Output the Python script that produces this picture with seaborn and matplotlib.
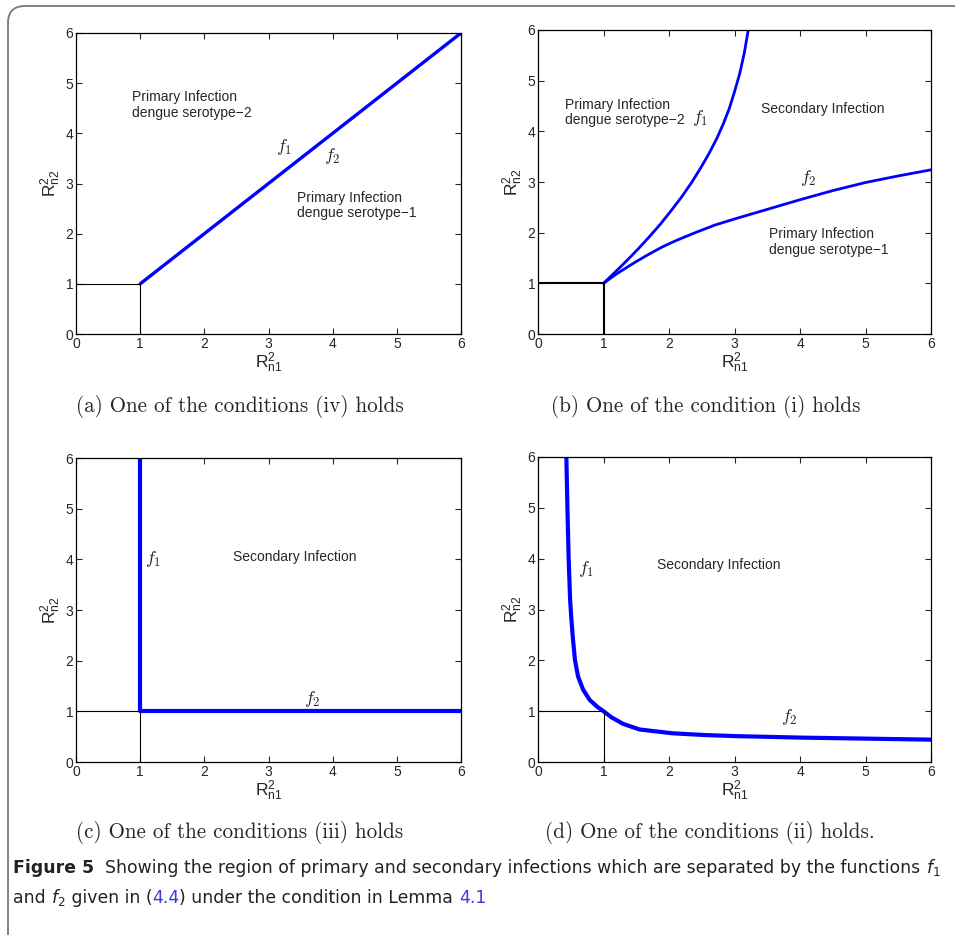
import numpy as np
import pandas as pd
import seaborn as sns
import matplotlib.pyplot as plt
from matplotlib.patches import FancyBboxPatch

# boundary curves
a_x = [1.0, 6.0]
a_y = [1.0, 6.0]

b_f1_x = [1.0, 1.12, 1.24, 1.38, 1.53, 1.70, 1.87, 2.03, 2.19, 2.34, 2.48, 2.61,
          2.73, 2.83, 2.92, 3.00, 3.08, 3.15, 3.21]
b_f1_y = [1.0, 1.15, 1.30, 1.48, 1.68, 1.92, 2.17, 2.43, 2.70, 2.98, 3.27, 3.56,
          3.86, 4.15, 4.45, 4.78, 5.14, 5.55, 6.0]
b_f2_x = [1.0, 1.18, 1.35, 1.5, 1.7, 1.9, 2.1, 2.4, 2.7, 3.0, 3.5, 4.0, 4.5, 5.0, 5.5, 6.0]
b_f2_y = [1.0, 1.17, 1.31, 1.43, 1.58, 1.72, 1.84, 2.0, 2.15, 2.27, 2.46, 2.65, 2.83,
          2.99, 3.12, 3.24]

c_x = [1.0, 1.0, 6.0]
c_y = [6.0, 1.0, 1.0]

d_x = [0.433, 0.449, 0.468, 0.49, 0.51, 0.535, 0.565, 0.612, 0.69, 0.79, 0.91, 1.0,
       1.12, 1.3, 1.55, 2.05, 2.55, 3.0, 4.0, 5.0, 6.0]
d_y = [6.0, 5.0, 4.0, 3.2, 2.8, 2.4, 2.0, 1.68, 1.42, 1.22, 1.08, 1.0,
       0.88, 0.75, 0.64, 0.565, 0.53, 0.51, 0.48, 0.46, 0.44]

ticks = [0, 1, 2, 3, 4, 5, 6]
captions = ['(a) One of the conditions (iv) holds',
            '(b) One of the condition (i) holds',
            '(c) One of the conditions (iii) holds',
            '(d) One of the conditions (ii) holds.']

sns.set_style('ticks')
plt.rcParams['font.family'] = ['Liberation Sans', 'DejaVu Sans']
plt.rcParams['mathtext.rm'] = 'Liberation Sans'
plt.rcParams['mathtext.it'] = 'Liberation Sans:italic'
plt.rcParams['axes.linewidth'] = 0.9

W, H = 955, 935
fig = plt.figure(figsize=(W / 100, H / 100), dpi=100)

# rounded frame around the whole figure
frame = FancyBboxPatch((8 / W, -0.1), 1.2, (H - 6) / H + 0.1,
                       boxstyle='round,pad=0,rounding_size=0.018',
                       transform=fig.transFigure, fill=False,
                       edgecolor='#777777', linewidth=1.3)
fig.patches.append(frame)

def make_ax(left, top, right, bottom):
    return fig.add_axes([left / W, 1 - bottom / H, (right - left) / W, (bottom - top) / H])

def style_ax(ax, lw_black):
    ax.plot([0, 1], [1, 1], color='black', lw=lw_black)
    ax.plot([1, 1], [0, 1], color='black', lw=lw_black)
    ax.set_xlim(0, 6)
    ax.set_ylim(0, 6)
    ax.set_xticks(ticks)
    ax.set_yticks(ticks)
    ax.tick_params(direction='in', top=True, right=True, length=4, width=0.8,
                   labelsize=10, pad=2)
    ax.set_xlabel(r'$\mathrm{R}^{2}_{\mathrm{n1}}$', fontsize=12.5, labelpad=0,
                  math_fontfamily='custom')
    ax.set_ylabel(r'$\mathrm{R}^{2}_{\mathrm{n2}}$', fontsize=12.5, labelpad=2,
                  math_fontfamily='custom')
    for s in ax.spines.values():
        s.set_color('black')

def ftext(ax, x, y, s):
    ax.text(x, y, s, fontsize=13, math_fontfamily='cm', ha='center', va='center')

def rtext(ax, x, y, s):
    ax.text(x, y, s, fontsize=10, ha='left', va='center', linespacing=1.15)

blue = '#0000ff'

# (a)
ax = make_ax(76, 33, 461, 334)
sns.lineplot(data=pd.DataFrame({'x': a_x, 'y': a_y}), x='x', y='y', ax=ax,
             color=blue, lw=2.4, sort=False, estimator=None)
style_ax(ax, 0.8)
rtext(ax, 0.88, 4.56, 'Primary Infection\ndengue serotype\u22122')
rtext(ax, 3.44, 2.56, 'Primary Infection\ndengue serotype\u22121')
ftext(ax, 3.25, 3.72, r'$f_1$')
ftext(ax, 4.0, 3.55, r'$f_2$')

# (b)
ax = make_ax(538, 30, 931, 334)
sns.lineplot(data=pd.DataFrame({'x': b_f1_x, 'y': b_f1_y}), x='x', y='y', ax=ax,
             color=blue, lw=2.0, sort=False, estimator=None)
sns.lineplot(data=pd.DataFrame({'x': b_f2_x, 'y': b_f2_y}), x='x', y='y', ax=ax,
             color=blue, lw=2.0, sort=False, estimator=None)
style_ax(ax, 1.5)
rtext(ax, 0.41, 4.37, 'Primary Infection\ndengue serotype\u22122')
rtext(ax, 3.40, 4.44, 'Secondary Infection')
rtext(ax, 3.53, 1.82, 'Primary Infection\ndengue serotype\u22121')
ftext(ax, 2.47, 4.27, r'$f_1$')
ftext(ax, 4.13, 3.08, r'$f_2$')

# (c)
ax = make_ax(76, 458, 461, 762)
sns.lineplot(data=pd.DataFrame({'x': c_x, 'y': c_y}), x='x', y='y', ax=ax,
             color=blue, lw=3.0, sort=False, estimator=None)
style_ax(ax, 0.8)
rtext(ax, 2.44, 4.05, 'Secondary Infection')
ftext(ax, 1.2, 4.0, r'$f_1$')
ftext(ax, 3.69, 1.24, r'$f_2$')

# (d)
ax = make_ax(538, 457, 931, 762)
sns.lineplot(data=pd.DataFrame({'x': d_x, 'y': d_y}), x='x', y='y', ax=ax,
             color=blue, lw=3.0, sort=False, estimator=None)
style_ax(ax, 0.8)
rtext(ax, 1.82, 3.88, 'Secondary Infection')
ftext(ax, 0.73, 3.80, r'$f_1$')
ftext(ax, 3.84, 0.88, r'$f_2$')

# sub-captions
cap_pos = [(240, 407), (706, 407), (240, 832), (710, 832)]
for (cx, cy), c in zip(cap_pos, captions):
    fig.text(cx / W, 1 - cy / H, c, family='cmr10', fontsize=15.2,
             ha='center', va='center')

# figure caption, written piece by piece
renderer = fig.canvas.get_renderer()
cap_font = ['Liberation Sans Narrow', 'DejaVu Sans']

def write_line(x, y, pieces):
    for s, kw in pieces:
        t = fig.text(x / W, 1 - y / H, s, family=cap_font, fontsize=12.4,
                     va='baseline', ha='left', math_fontfamily='dejavusans', **kw)
        x += t.get_window_extent(renderer).width

write_line(13, 873, [('Figure 5', {'weight': 'bold', 'color': '#222222'}),
                     ('  Showing the region of primary and secondary infections which are '
                      'separated by the functions ', {'color': '#222222'}),
                     (r'$f_1$', {'color': '#222222'})])
write_line(13, 903, [('and ', {'color': '#222222'}),
                     (r'$f_2$', {'color': '#222222'}),
                     (' given in (', {'color': '#222222'}),
                     ('4.4', {'color': '#3b3bdd'}),
                     (') under the condition in Lemma ', {'color': '#222222'}),
                     ('4.1', {'color': '#3b3bdd'})])

fig.savefig('out.png', dpi=100)
